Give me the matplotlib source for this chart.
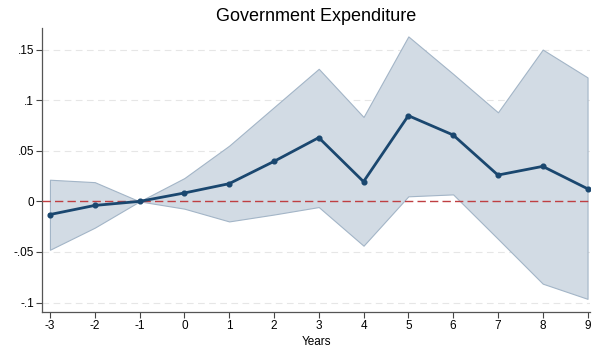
import numpy as np
import matplotlib
matplotlib.use("Agg")
import matplotlib.pyplot as plt

plt.rcParams['font.family'] = ['Liberation Sans', 'DejaVu Sans']

# dados
anos = [-3, -2, -1, 0, 1, 2, 3, 4, 5, 6, 7, 8, 9]
coef = [-0.013, -0.004, 0.0, 0.0083, 0.0175, 0.0395, 0.063, 0.0195, 0.0847, 0.0656, 0.026, 0.0346, 0.0125]
ic_sup = [0.0214, 0.019, 0.0, 0.023, 0.055, 0.093, 0.131, 0.0834, 0.163, 0.126, 0.088, 0.150, 0.1225]
ic_inf = [-0.0478, -0.026, 0.0, -0.0072, -0.0198, -0.013, -0.0056, -0.0438, 0.005, 0.0069, -0.037, -0.0813, -0.0963]
yticks = [-0.1, -0.05, 0, 0.05, 0.1, 0.15]
ytick_labels = ['-.1', '-.05', '0', '.05', '.1', '.15']

fig = plt.figure(figsize=(5.92, 3.54), dpi=100)
ax = fig.add_axes([0.0715, 0.1195, 0.9255, 0.8005])

ax.fill_between(anos, ic_inf, ic_sup, facecolor='#d2dbe4', edgecolor='#a3b5c7',
                linewidth=0.8, zorder=2)

# grade horizontal tracejada
for yv in yticks:
    if yv != 0:
        ax.axhline(yv, color='#e6e6e6', linestyle=(0, (6, 4)), linewidth=0.8, zorder=1)

ax.axhline(0, color='#bf3f42', linestyle=(0, (6, 3)), linewidth=1.0, zorder=3)

ax.plot(anos, coef, color='#1a476f', linewidth=2.0, marker='o', markersize=3.4, zorder=4)

ax.set_xlim(-3.17, 9.06)
ax.set_ylim(-0.109, 0.171)
ax.set_xticks(anos)
ax.set_xticklabels([str(a) for a in anos], fontsize=8.5)
ax.set_yticks(yticks)
ax.set_yticklabels(ytick_labels, fontsize=8.5)
ax.tick_params(direction='out', length=4, width=0.8, color='#444444', pad=2)

ax.spines['top'].set_visible(False)
ax.spines['right'].set_visible(False)
for s in ['left', 'bottom']:
    ax.spines[s].set_color('#555555')
    ax.spines[s].set_linewidth(0.9)

ax.set_xlabel('Years', fontsize=8.5, labelpad=3)
ax.set_title('Government Expenditure', fontsize=13, pad=5)

fig.savefig('out.png', dpi=100)
